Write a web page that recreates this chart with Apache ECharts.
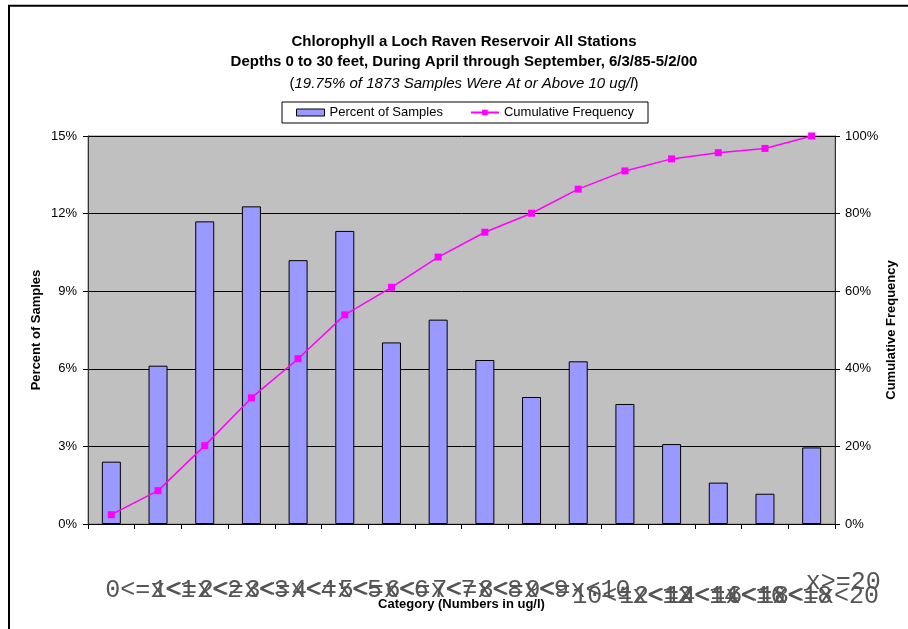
<!DOCTYPE html>
<html>
<head>
<meta charset="utf-8">
<script src="https://cdn.jsdelivr.net/npm/echarts@6/dist/echarts.min.js"></script>
<style>
  html, body { margin: 0; padding: 0; background: #fff; }
  #chart { width: 908px; height: 629px; }
</style>
</head>
<body>
<div id="chart"></div>
<script>
// Chlorophyll a concentration classes (ug/l)
const categories = [
  '0<=x<1', '1<=x<2', '2<=x<3', '3<=x<4', '4<=x<5', '5<=x<6', '6<=x<7', '7<=x<8',
  '8<=x<9', '9<=x<10', '10<=x<12', '12<=x<14', '14<=x<16', '16<=x<18', '18<=x<20', 'x>=20'
];

// Share of samples falling in each class (%)
const percentOfSamples = [
  2.41, 6.12, 11.70, 12.28, 10.20, 11.33, 7.02, 7.90,
  6.34, 4.91, 6.29, 4.64, 3.09, 1.60, 1.17, 2.96
];

// Running total of the samples (%)
const cumulativeFrequency = [
  2.4, 8.6, 20.2, 32.5, 42.6, 53.9, 61.0, 68.8,
  75.2, 80.1, 86.3, 91.0, 94.1, 95.7, 96.8, 100
];

const leftTicks = { min: 0, max: 15, interval: 3 };
const rightTicks = { min: 0, max: 100, interval: 20 };

const titleLines = [
  'Chlorophyll a Loch Raven Reservoir All Stations',
  'Depths 0 to 30 feet, During April through September, 6/3/85-5/2/00'
];
const subtitleText = '19.75% of 1873 Samples Were At or Above 10 ug/l';

const SANS = "'Liberation Sans', Arial, sans-serif";
const MONO = "'Liberation Mono', 'Courier New', monospace";

const monoLabel = (top) => ({
  fontFamily: MONO, fontSize: 25, color: '#555555', padding: [top, 0, 0, -6]
});

const chart = echarts.init(document.getElementById('chart'), null, { renderer: 'canvas' });

chart.setOption({
  animation: false,
  backgroundColor: '#ffffff',
  title: {
    text: titleLines.join('\n'),
    subtext: '{p|(}{i|' + subtitleText + '}{p|)}',
    left: 464,
    textAlign: 'center',
    top: 32,
    padding: 0,
    itemGap: 2,
    textStyle: { fontFamily: SANS, fontSize: 15, fontWeight: 'bold', color: '#000', lineHeight: 20 },
    subtextStyle: {
      fontFamily: SANS, fontSize: 15, color: '#000', lineHeight: 20,
      rich: {
        p: { fontFamily: SANS, fontSize: 15, color: '#000', lineHeight: 20 },
        i: { fontFamily: SANS, fontSize: 15, fontStyle: 'italic', color: '#000', lineHeight: 20 }
      }
    }
  },
  legend: {
    left: 282,
    top: 102,
    padding: [4, 14, 4, 14],
    itemGap: 27,
    itemWidth: 28,
    itemHeight: 7,
    backgroundColor: '#fff',
    borderColor: '#000',
    borderWidth: 1,
    borderRadius: 0,
    textStyle: { fontFamily: SANS, fontSize: 13, color: '#000' },
    data: [
      { name: 'Percent of Samples', icon: 'rect', itemStyle: { color: '#9999FF', borderColor: '#000', borderWidth: 1 } },
      { name: 'Cumulative Frequency' }
    ]
  },
  graphic: [{
    type: 'polyline',
    silent: true,
    shape: { points: [[9, 629], [9, 5.7], [908, 5.7]] },
    style: { stroke: '#000', lineWidth: 2, fill: null }
  }],
  grid: {
    left: 88,
    right: 73,
    top: 136,
    bottom: 105,
    show: true,
    backgroundColor: '#C0C0C0',
    borderColor: '#808080',
    borderWidth: 1,
    containLabel: false,
    outerBoundsMode: 'none'
  },
  xAxis: {
    type: 'category',
    data: categories,
    boundaryGap: true,
    name: 'Category (Numbers in ug/l)',
    nameLocation: 'middle',
    nameGap: 74,
    nameMoveOverlap: false,
    nameTextStyle: { fontFamily: SANS, fontSize: 13, fontWeight: 'bold', color: '#000' },
    axisLine: { show: true, lineStyle: { color: '#000', width: 1 } },
    axisTick: { show: true, length: 5, inside: false, lineStyle: { color: '#000' } },
    splitLine: { show: false },
    axisLabel: {
      interval: 0,
      align: 'left',
      verticalAlign: 'top',
      margin: 46,
      hideOverlap: false,
      fontFamily: MONO,
      fontSize: 25,
      color: '#555555',
      formatter: function (value, index) {
        const row = index < 10 ? 'a' : (index < 15 ? 'b' : 'c');
        return '{' + row + '|' + value + '}';
      },
      rich: { a: monoLabel(8), b: monoLabel(14), c: monoLabel(0) }
    }
  },
  yAxis: [{
    type: 'value',
    min: leftTicks.min,
    max: leftTicks.max,
    interval: leftTicks.interval,
    name: 'Percent of Samples',
    nameLocation: 'middle',
    nameRotate: 90,
    nameGap: 45,
    nameMoveOverlap: false,
    nameTextStyle: { fontFamily: SANS, fontSize: 13, fontWeight: 'bold', color: '#000' },
    axisLine: { show: true, lineStyle: { color: '#333', width: 1 } },
    axisTick: { show: true, length: 5, inside: false, lineStyle: { color: '#000' } },
    axisLabel: { margin: 11, fontFamily: SANS, fontSize: 13, color: '#000', formatter: '{value}%' },
    splitLine: { show: true, lineStyle: { color: '#000', width: 1 } }
  }, {
    type: 'value',
    position: 'right',
    min: rightTicks.min,
    max: rightTicks.max,
    interval: rightTicks.interval,
    name: 'Cumulative Frequency',
    nameLocation: 'middle',
    nameRotate: 90,
    nameGap: 50,
    nameMoveOverlap: false,
    nameTextStyle: { fontFamily: SANS, fontSize: 13, fontWeight: 'bold', color: '#000' },
    axisLine: { show: true, lineStyle: { color: '#333', width: 1 } },
    axisTick: { show: true, length: 5, inside: false, lineStyle: { color: '#000' } },
    axisLabel: { margin: 10, fontFamily: SANS, fontSize: 13, color: '#000', formatter: '{value}%' },
    splitLine: { show: false }
  }],
  series: [{
    name: 'Percent of Samples',
    type: 'bar',
    data: percentOfSamples,
    yAxisIndex: 0,
    barWidth: 19,
    itemStyle: { color: '#9999FF', borderColor: '#000', borderWidth: 1 },
    z: 2
  }, {
    name: 'Cumulative Frequency',
    type: 'line',
    data: cumulativeFrequency,
    yAxisIndex: 1,
    symbol: 'rect',
    symbolSize: 7,
    showSymbol: true,
    lineStyle: { color: '#FF00FF', width: 1.5 },
    itemStyle: { color: '#FF00FF' },
    z: 3
  }]
});
</script>
</body>
</html>
